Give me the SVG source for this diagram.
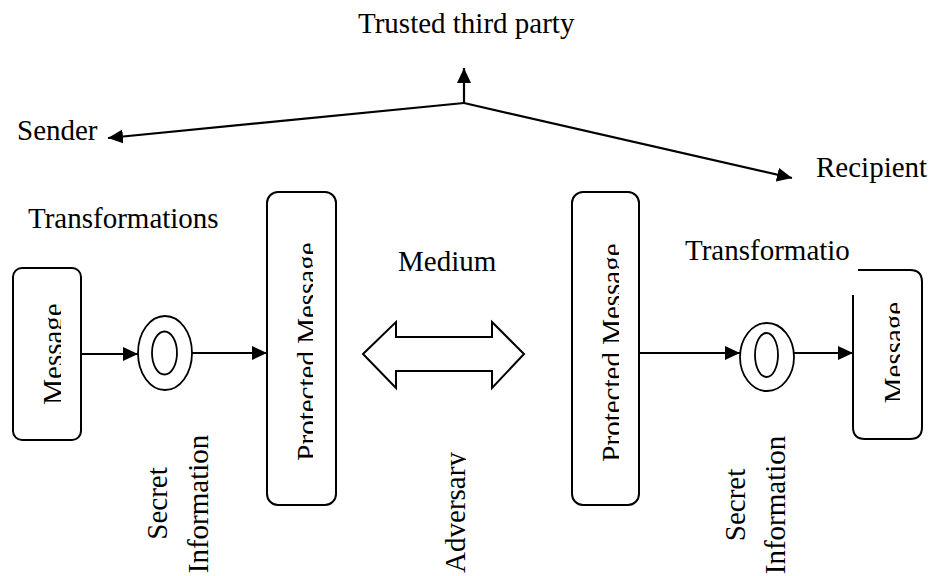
<svg xmlns="http://www.w3.org/2000/svg" width="940" height="576" viewBox="0 0 940 576">
  <style>
    text { font-family: "Liberation Serif", "Times New Roman", serif; font-size: 29px; fill: #000; }
    .box { fill: #fff; stroke: #000; stroke-width: 2; }
    .ring { fill: #fff; stroke: #000; stroke-width: 1.8; }
    .wire { fill: none; stroke: #000; stroke-width: 2.2; }
    .v { text-anchor: middle; }
  </style>
  <defs>
    <marker id="head" markerUnits="userSpaceOnUse" markerWidth="16" markerHeight="14" refX="15" refY="7" orient="auto">
      <path d="M0,0 L15,7 L0,14 z" fill="#000"/>
    </marker>
    <clipPath id="clipMsgL" clipPathUnits="userSpaceOnUse"><rect x="0" y="0" width="61" height="576"/></clipPath>
    <clipPath id="clipProtL" clipPathUnits="userSpaceOnUse"><rect x="0" y="0" width="313" height="576"/></clipPath>
    <clipPath id="clipProtR" clipPathUnits="userSpaceOnUse"><rect x="0" y="0" width="619" height="576"/></clipPath>
    <clipPath id="clipMsgR" clipPathUnits="userSpaceOnUse"><rect x="0" y="0" width="900" height="576"/></clipPath>
    <clipPath id="clipAdv" clipPathUnits="userSpaceOnUse"><rect x="0" y="0" width="466" height="576"/></clipPath>
  </defs>

  <!-- parties -->
  <g id="trusted-party"><text x="358" y="33">Trusted third party</text></g>
  <g id="sender"><text x="17" y="140">Sender</text></g>
  <g id="recipient"><text x="816" y="177">Recipient</text></g>
  <g id="label-transformations-left"><text x="28" y="228">Transformations</text></g>
  <g id="label-transformations-right"><text x="685" y="260">Transformatio</text></g>
  <g id="label-medium"><text x="398" y="271">Medium</text></g>

  <!-- sender side -->
  <g id="message-left">
    <rect class="box" x="13" y="268" width="68" height="172" rx="9"/>
    <g clip-path="url(#clipMsgL)"><text class="v" transform="translate(63,354) rotate(-90)">Message</text></g>
  </g>
  <g id="secret-left">
    <ellipse class="ring" cx="165" cy="353" rx="27" ry="37"/>
    <ellipse class="ring" cx="164.5" cy="353" rx="12.5" ry="21.5"/>
  </g>
  <g id="protected-left">
    <rect class="box" x="267" y="192" width="69" height="313" rx="11"/>
    <g clip-path="url(#clipProtL)"><text class="v" transform="translate(317,351.5) rotate(-90)">Protected Message</text></g>
  </g>
  <g id="secret-info-left">
    <text class="v" transform="translate(167,503.5) rotate(-90)">Secret</text>
    <text class="v" transform="translate(208,504) rotate(-90)">Information</text>
  </g>

  <!-- channel -->
  <g id="medium">
    <polygon class="box" stroke-width="1.6" points="363,354 396,322 396,337 492,337 492,322 524,354 492,388 492,371 396,371 396,388"/>
  </g>
  <g id="adversary">
    <g clip-path="url(#clipAdv)"><text class="v" transform="translate(465,512.5) rotate(-90)">Adversary</text></g>
  </g>

  <!-- recipient side -->
  <g id="protected-right">
    <rect class="box" x="572" y="192" width="67" height="313" rx="11"/>
    <g clip-path="url(#clipProtR)"><text class="v" transform="translate(622,352.5) rotate(-90)">Protected Message</text></g>
  </g>
  <g id="secret-right">
    <ellipse class="ring" cx="767" cy="357" rx="27" ry="34"/>
    <ellipse class="ring" cx="766.5" cy="355" rx="11.5" ry="22"/>
  </g>
  <g id="message-right">
    <path class="box" fill="none" d="M858,270 L910,270 Q922,270 922,282 L922,427 Q922,439 910,439 L865,439 Q853,439 853,427 L853,295"/>
    <g clip-path="url(#clipMsgR)"><text class="v" transform="translate(904,352.5) rotate(-90)">Message</text></g>
  </g>
  <g id="secret-info-right">
    <text class="v" transform="translate(745,505) rotate(-90)">Secret</text>
    <text class="v" transform="translate(785,505) rotate(-90)">Information</text>
  </g>

  <!-- connectors -->
  <g id="connectors">
    <line class="wire" x1="464" y1="103" x2="464" y2="68" marker-end="url(#head)"/>
    <line class="wire" x1="464" y1="103" x2="108" y2="138" marker-end="url(#head)"/>
    <line class="wire" x1="464" y1="103" x2="792" y2="178" marker-end="url(#head)"/>
    <line class="wire" x1="81" y1="354" x2="138" y2="354" marker-end="url(#head)"/>
    <line class="wire" x1="192" y1="353" x2="267" y2="353" marker-end="url(#head)"/>
    <line class="wire" x1="639" y1="353" x2="740" y2="353" marker-end="url(#head)"/>
    <line class="wire" x1="794" y1="353" x2="853" y2="353" marker-end="url(#head)"/>
  </g>
</svg>
